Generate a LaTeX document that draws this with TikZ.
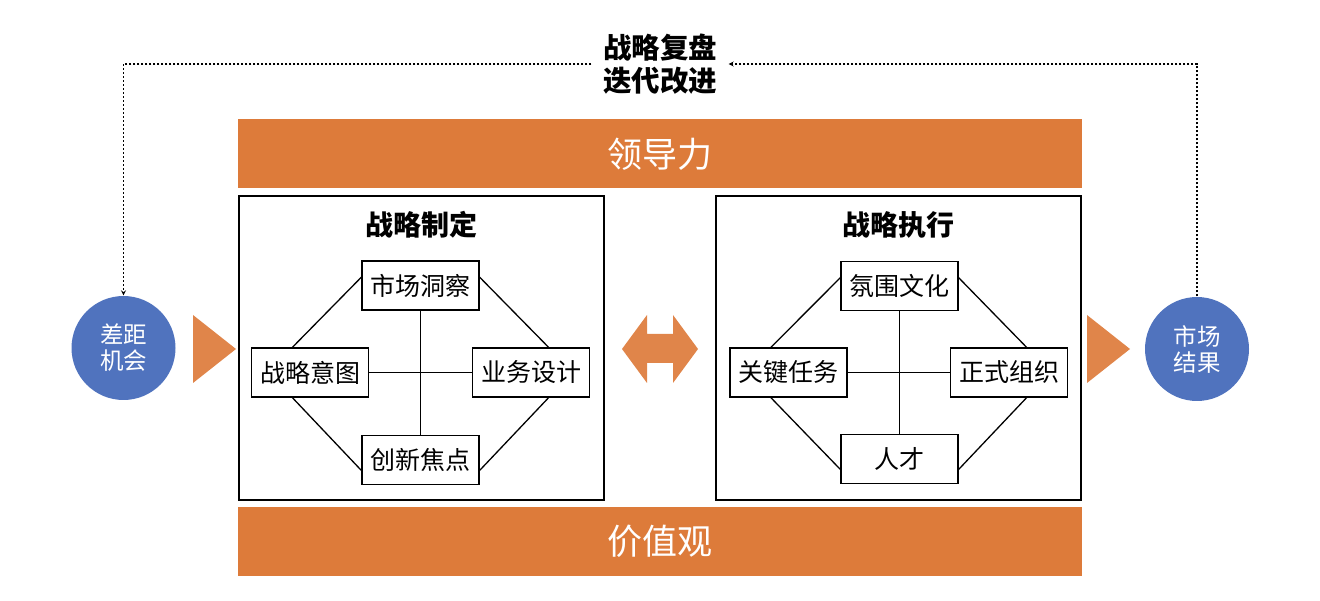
\documentclass[tikz,border=0pt]{standalone}
\usepackage{fontspec}
\setmainfont{Noto Sans CJK SC}
\definecolor{barorange}{HTML}{DD7B3A}
\definecolor{triorange}{HTML}{E0854A}
\definecolor{ballblue}{HTML}{5073BE}

\begin{document}
\begin{tikzpicture}[x=1pt, y=-1pt, >=stealth, line width=1.3pt,
	bar/.style={fill=barorange, text=white, minimum width=844pt, minimum height=69pt, inner sep=0pt, font=\fontsize{35}{40}\selectfont},
	frame/.style={draw, minimum width=365pt, minimum height=304pt, inner sep=0pt},
	title/.style={font=\fontsize{28}{32}\selectfont\bfseries},
	item/.style={draw, fill=white, minimum width=117pt, minimum height=49pt, inner sep=0pt, font=\fontsize{25}{28}\selectfont},
	ball/.style={circle, fill=ballblue, text=white, minimum size=104pt, inner sep=0pt, align=center, font=\fontsize{23.5}{26}\selectfont},
	loopline/.style={dash pattern=on 2pt off 2pt, line width=1.2pt},
	tri/.style={fill=triorange, draw=none}]
	
	\useasboundingbox (0,0) rectangle (1320,601);
	
	% ================= 上下两条横幅 =================
	\node[bar] (lead) at (660,154) {领导力};
	\node[bar] (value) at (660,541.5) {价值观};
	
	% ================= 左框：战略制定 =================
	\node[frame] (form) at (421.5,348) {};
	\node[title] (tform) at (421.5,225) {战略制定};
	\node[item] (sc) at (420.5,285.5) {市场洞察};
	\node[item] (si) at (310,372.5) {战略意图};
	\node[item] (bd) at (531,372.5) {业务设计};
	\node[item] (in) at (420.5,460) {创新焦点};
	\draw (sc.172) -- (si.125);
	\draw (sc.8) -- (bd.55);
	\draw (si.235) -- (in.190);
	\draw (bd.305) -- (in.350);
	\draw (si) -- (bd);
	\draw (sc) -- (in);
	
	% ================= 右框：战略执行 =================
	\node[frame] (exec) at (898.5,348) {};
	\node[title] (texec) at (898.5,225) {战略执行};
	\node[item] (cu) at (899.5,286) {氛围文化};
	\node[item] (kt) at (788.5,372.5) {关键任务};
	\node[item] (fo) at (1009,372.5) {正式组织};
	\node[item] (ta) at (899.5,459) {人才};
	\draw (cu.172) -- (kt.125);
	\draw (cu.8) -- (fo.55);
	\draw (kt.235) -- (ta.190);
	\draw (fo.305) -- (ta.350);
	\draw (kt) -- (fo);
	\draw (cu) -- (ta);
	
	% 中间双向箭头
	\fill[tri] (622,349) -- (647,315) -- (647,334) -- (673,334) -- (673,315) -- (698,349)
		-- (673,383) -- (673,363) -- (647,363) -- (647,383) -- cycle;
	
	% ================= 两端圆与三角 =================
	\node[ball] (gap) at (123.5,348) {差距\\机会};
	\node[ball] (res) at (1197,349) {市场\\结果};
	\fill[tri] (193,315) -- (236,349) -- (193,383) -- cycle;
	\fill[tri] (1087,315) -- (1130,349) -- (1087,383) -- cycle;
	
	% 顶部回路 (虚线)
	\node[font=\fontsize{28.5}{33.5}\selectfont\bfseries, align=center, inner xsep=11pt] (review) at (660,64) {战略复盘\\迭代改进};
	\draw[loopline, ->] (res.north) |- (review.east);
	\draw[loopline, ->] (review.west) -| (gap.north);
	
\end{tikzpicture}
\end{document}
